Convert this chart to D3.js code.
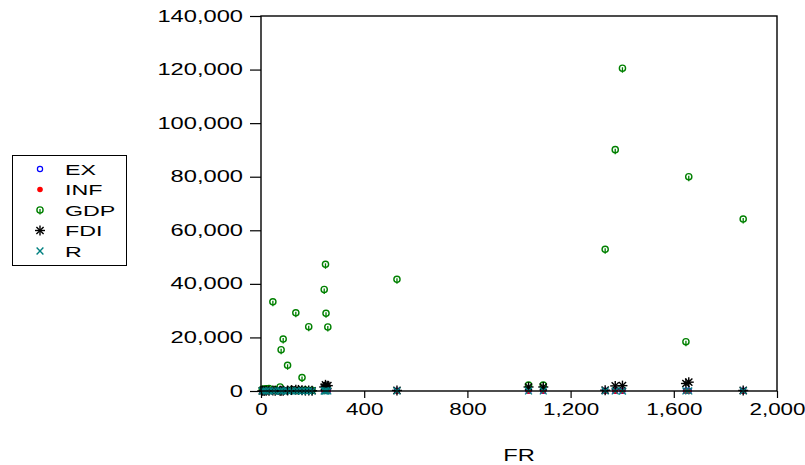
<!DOCTYPE html>
<html>
<head>
<meta charset="utf-8">
<script src="https://cdn.jsdelivr.net/npm/d3@7"></script>
<style>
  body { margin: 0; background: #fff; }
  svg text { font-family: "Liberation Sans", Arial, sans-serif; fill: #000; }
</style>
</head>
<body>
<svg id="chart" width="805" height="465"></svg>
<script>
// observations, x = FR
const fr  = [5, 12, 20, 31, 46, 55, 74, 78, 86, 103, 118, 135, 145, 159, 172, 185, 198,
             245, 250, 252, 259, 527, 1037, 1094, 1334, 1373, 1401, 1647, 1658, 1869];
const ex  = [120, 90, 60, 40, 30, 150, 80, 70, 110, 95, 60, 140, 50, 100, 75, 130, 85,
             160, 120, 90, 110, 150, 130, 100, 140, 120, 110, 125, 135, 115];
const inf = [10, 15, 8, 12, 6, 20, 9, 14, 11, 18, 7, 13, 16, 10, 12, 9, 15,
             8, 11, 14, 10, 12, 9, 13, 11, 8, 10, 12, 14, 9];
const gdp = [600, 700, 800, 900, 33300, 500, 1500, 15400, 19400, 9600, 400, 29200, 300, 5000, 350, 24000, 300,
             37900, 47300, 29000, 23900, 41700, 2200, 2200, 52900, 90100, 120500, 18400, 80000, 64200];
const fdi = [50, 30, 80, 100, 150, 60, 120, 90, 110, 200, 350, 500, 400, 300, 150, 200, 100,
             1500, 2300, 1800, 2000, 200, 1500, 1500, 300, 1900, 2000, 2800, 3300, 200];
const r   = [8, 12, 10, 9, 7, 11, 6, 9, 10, 8, 12, 7, 9, 11, 10, 8, 9,
             7, 10, 8, 9, 11, 9, 10, 8, 9, 7, 10, 9, 8];

const seriesNames = ["EX", "INF", "GDP", "FDI", "R"];
const seriesData = [ex, inf, gdp, fdi, r];
const colors = ["#0000ff", "#ff0000", "#008000", "#000000", "#008080"];

const xTicks = [0, 400, 800, 1200, 1600, 2000];
const yTicks = [0, 20000, 40000, 60000, 80000, 100000, 120000, 140000];

const svg = d3.select("#chart");
const plotL = 261, plotR = 777, plotT = 16, plotB = 391;
const sx = 1.5; // text is drawn wide in the original

const x = d3.scaleLinear().domain([0, 2000]).range([plotL, plotR]);
const y = d3.scaleLinear().domain([0, 140000]).range([plotB, plotT]);

// marker drawing
function drawMarker(g, type, cx, cy) {
  if (type === 0) {
    g.append("circle").attr("cx", cx).attr("cy", cy).attr("r", 2.6)
      .attr("fill", "none").attr("stroke", colors[0]).attr("stroke-width", 1.2);
  } else if (type === 1) {
    g.append("circle").attr("cx", cx).attr("cy", cy).attr("r", 2.8)
      .attr("fill", colors[1]);
  } else if (type === 2) {
    g.append("circle").attr("cx", cx).attr("cy", cy).attr("r", 3.1)
      .attr("fill", "none").attr("stroke", colors[2]).attr("stroke-width", 1.4);
    g.append("line").attr("x1", cx).attr("x2", cx).attr("y1", cy - 1).attr("y2", cy + 4.5)
      .attr("stroke", colors[2]).attr("stroke-width", 1.3);
  } else if (type === 3) {
    const s = 5;
    [[-s, 0, s, 0], [0, -s, 0, s], [-s * 0.72, -s * 0.72, s * 0.72, s * 0.72], [-s * 0.72, s * 0.72, s * 0.72, -s * 0.72]]
      .forEach(function(d) {
        g.append("line").attr("x1", cx + d[0]).attr("y1", cy + d[1])
          .attr("x2", cx + d[2]).attr("y2", cy + d[3])
          .attr("stroke", colors[3]).attr("stroke-width", 1.4);
      });
  } else {
    const s = 3.4;
    g.append("line").attr("x1", cx - s).attr("y1", cy - s).attr("x2", cx + s).attr("y2", cy + s)
      .attr("stroke", colors[4]).attr("stroke-width", 1.4);
    g.append("line").attr("x1", cx - s).attr("y1", cy + s).attr("x2", cx + s).attr("y2", cy - s)
      .attr("stroke", colors[4]).attr("stroke-width", 1.4);
  }
}

// points
const pts = svg.append("g");
seriesData.forEach(function(vals, si) {
  const g = pts.append("g").attr("class", "series-" + seriesNames[si]);
  vals.forEach(function(v, i) {
    drawMarker(g, si, x(fr[i]), y(v));
  });
});

// frame
svg.append("rect").attr("x", plotL).attr("y", plotT)
  .attr("width", plotR - plotL).attr("height", plotB - plotT)
  .attr("fill", "none").attr("stroke", "#000").attr("stroke-width", 1.4);

// axes
const yAxis = svg.append("g").attr("transform", "translate(" + plotL + ",0)")
  .call(d3.axisLeft(y).tickValues(yTicks).tickSize(11).tickPadding(7).tickFormat(d3.format(",")));
const xAxis = svg.append("g").attr("transform", "translate(0," + plotB + ")")
  .call(d3.axisBottom(x).tickValues(xTicks).tickSize(7).tickPadding(6).tickFormat(d3.format(",")));

[[yAxis, sx], [xAxis, 1.42]].forEach(function(p) {
  const a = p[0], k = p[1];
  a.select(".domain").remove();
  a.selectAll(".tick line").attr("stroke", "#000").attr("stroke-width", 1.2);
  a.selectAll(".tick text").attr("font-size", 15.8).attr("fill", "#000")
    .attr("font-family", "Liberation Sans, Arial, sans-serif")
    .each(function() {
      const t = d3.select(this);
      const tx = +t.attr("x") || 0;
      t.attr("x", tx / k).attr("transform", "scale(" + k + ",1)");
    });
});

// axis title
svg.append("text").attr("transform", "translate(519,461) scale(" + sx + ",1)")
  .attr("text-anchor", "middle").attr("font-size", 15.8).text("FR");

// legend
const lg = svg.append("g");
lg.append("rect").attr("x", 12.5).attr("y", 155.5).attr("width", 114).attr("height", 110)
  .attr("fill", "#fff").attr("stroke", "#000").attr("stroke-width", 1);
seriesNames.forEach(function(name, i) {
  const cy = 169 + i * 20.5;
  drawMarker(lg, i, 40, cy);
  lg.append("text").attr("transform", "translate(65," + (cy + 5.5) + ") scale(" + sx + ",1)")
    .attr("font-size", 15.5).text(name);
});
</script>
</body>
</html>
